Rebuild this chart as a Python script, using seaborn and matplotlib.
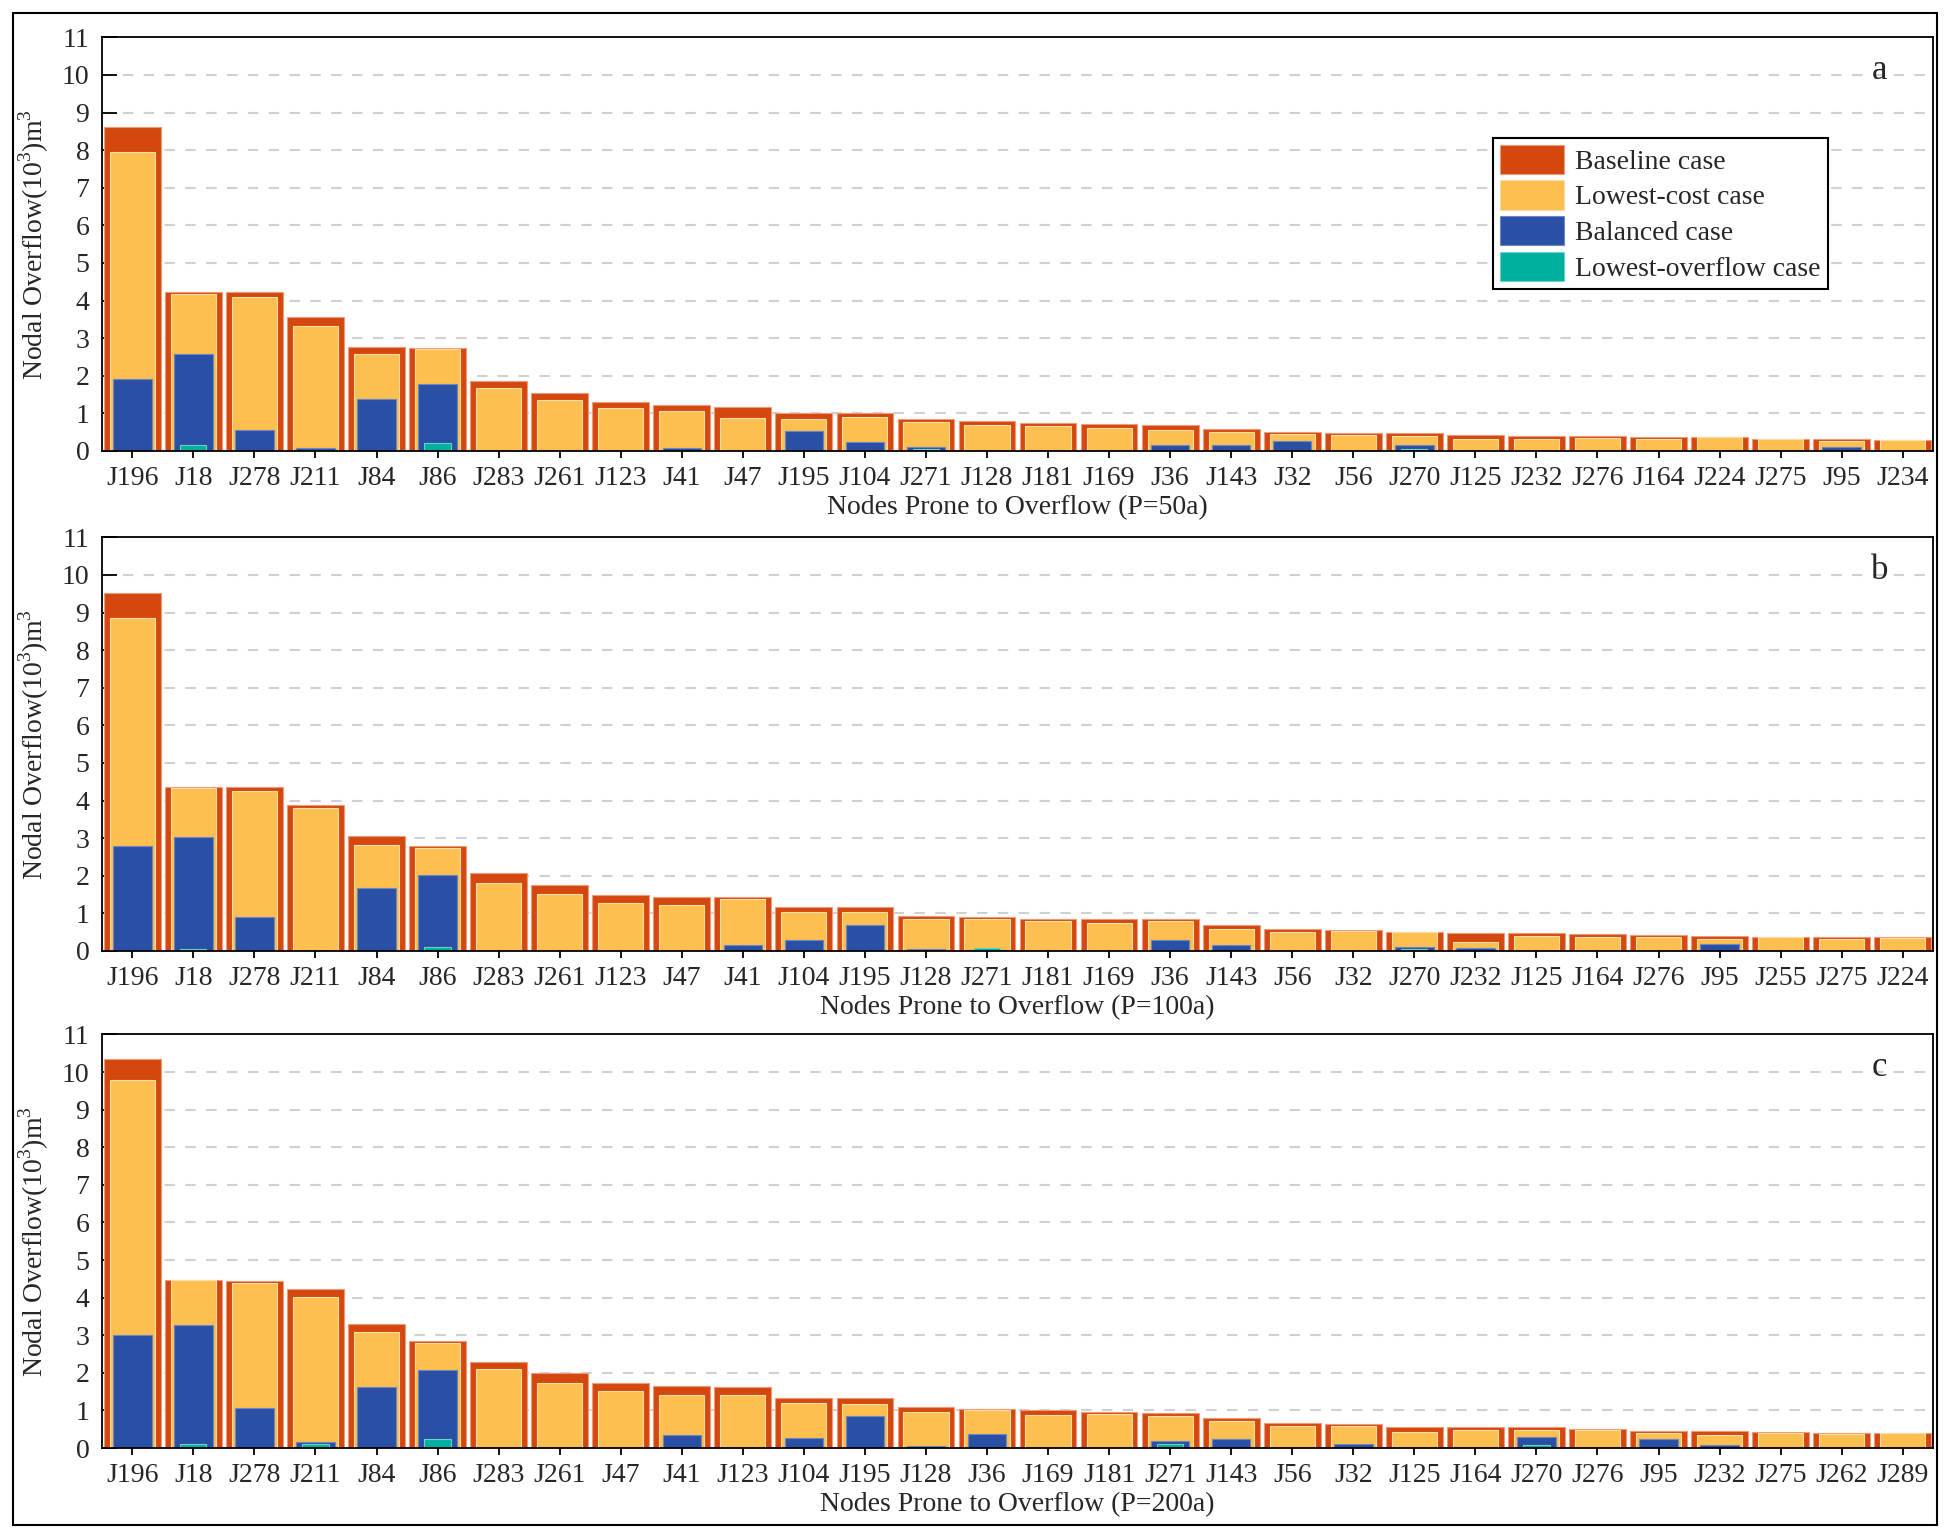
import matplotlib
matplotlib.use('Agg')
import matplotlib.pyplot as plt
from matplotlib.patches import Rectangle
import seaborn as sns

# node order and overflow values (10^3 m3) for each return period
nodes_50 = ['J196', 'J18', 'J278', 'J211', 'J84', 'J86', 'J283', 'J261', 'J123', 'J41',
            'J47', 'J195', 'J104', 'J271', 'J128', 'J181', 'J169', 'J36', 'J143', 'J32',
            'J56', 'J270', 'J125', 'J232', 'J276', 'J164', 'J224', 'J275', 'J95', 'J234']
base_50 = [8.61, 4.23, 4.22, 3.55, 2.77, 2.75, 1.85, 1.53, 1.29, 1.22,
           1.16, 1.00, 1.00, 0.84, 0.80, 0.75, 0.71, 0.68, 0.59, 0.50,
           0.49, 0.47, 0.42, 0.40, 0.40, 0.37, 0.37, 0.33, 0.33, 0.30]
cost_50 = [7.94, 4.18, 4.10, 3.32, 2.59, 2.71, 1.67, 1.36, 1.14, 1.06,
           0.88, 0.86, 0.91, 0.78, 0.69, 0.67, 0.60, 0.56, 0.51, 0.44,
           0.42, 0.41, 0.32, 0.33, 0.34, 0.32, 0.36, 0.31, 0.27, 0.29]
bal_50 = [1.91, 2.57, 0.56, 0.09, 1.39, 1.79, 0, 0, 0, 0.09,
          0, 0.53, 0.24, 0.10, 0, 0, 0, 0.15, 0.15, 0.27,
          0, 0.17, 0, 0, 0, 0, 0, 0, 0.10, 0]
low_50 = [0, 0.16, 0, 0.03, 0, 0.20, 0, 0, 0, 0,
          0, 0, 0, 0.05, 0, 0, 0, 0, 0, 0,
          0, 0.04, 0, 0, 0, 0, 0, 0, 0, 0]

nodes_100 = ['J196', 'J18', 'J278', 'J211', 'J84', 'J86', 'J283', 'J261', 'J123', 'J47',
             'J41', 'J104', 'J195', 'J128', 'J271', 'J181', 'J169', 'J36', 'J143', 'J56',
             'J32', 'J270', 'J232', 'J125', 'J164', 'J276', 'J95', 'J255', 'J275', 'J224']
base_100 = [9.51, 4.37, 4.36, 3.89, 3.05, 2.79, 2.08, 1.76, 1.48, 1.44,
            1.43, 1.16, 1.16, 0.94, 0.90, 0.86, 0.86, 0.84, 0.70, 0.58,
            0.57, 0.51, 0.49, 0.48, 0.46, 0.43, 0.39, 0.38, 0.37, 0.36]
cost_100 = [8.86, 4.34, 4.26, 3.79, 2.81, 2.75, 1.80, 1.52, 1.28, 1.23,
            1.38, 1.04, 1.04, 0.85, 0.84, 0.79, 0.74, 0.80, 0.59, 0.51,
            0.52, 0.50, 0.23, 0.40, 0.36, 0.38, 0.33, 0.37, 0.32, 0.35]
bal_100 = [2.79, 3.02, 0.90, 0, 1.68, 2.01, 0, 0, 0, 0,
           0.17, 0.29, 0.69, 0.04, 0.03, 0, 0, 0.29, 0.17, 0,
           0, 0.11, 0.08, 0, 0, 0, 0.19, 0, 0, 0]
low_100 = [0, 0.05, 0, 0.02, 0, 0.10, 0, 0, 0, 0,
           0, 0, 0, 0, 0.08, 0, 0, 0, 0, 0,
           0, 0.05, 0, 0, 0, 0, 0, 0, 0, 0]

nodes_200 = ['J196', 'J18', 'J278', 'J211', 'J84', 'J86', 'J283', 'J261', 'J47', 'J41',
             'J123', 'J104', 'J195', 'J128', 'J36', 'J169', 'J181', 'J271', 'J143', 'J56',
             'J32', 'J125', 'J164', 'J270', 'J276', 'J95', 'J232', 'J275', 'J262', 'J289']
base_200 = [10.35, 4.48, 4.45, 4.24, 3.31, 2.84, 2.30, 1.99, 1.74, 1.65,
            1.63, 1.33, 1.32, 1.08, 1.03, 1.00, 0.97, 0.93, 0.81, 0.66,
            0.63, 0.56, 0.56, 0.55, 0.50, 0.45, 0.44, 0.42, 0.41, 0.41]
cost_200 = [9.80, 4.46, 4.38, 4.02, 3.09, 2.80, 2.09, 1.73, 1.53, 1.42,
            1.40, 1.21, 1.18, 0.96, 1.01, 0.88, 0.90, 0.85, 0.72, 0.59,
            0.58, 0.43, 0.49, 0.48, 0.47, 0.40, 0.35, 0.39, 0.36, 0.41]
bal_200 = [3.00, 3.26, 1.07, 0.16, 1.61, 2.07, 0, 0, 0, 0.34,
           0, 0.27, 0.84, 0.05, 0.36, 0, 0, 0.18, 0.24, 0,
           0.10, 0, 0, 0.30, 0, 0.25, 0.07, 0, 0, 0]
low_200 = [0, 0.12, 0, 0.12, 0, 0.25, 0, 0, 0, 0,
           0, 0, 0, 0, 0, 0, 0, 0.12, 0, 0,
           0, 0, 0, 0.09, 0, 0, 0, 0, 0, 0]

case_names = ['Baseline case', 'Lowest-cost case', 'Balanced case', 'Lowest-overflow case']
colors = ['#D4470F', '#FDBF4F', '#2A50A5', '#00B09F']
edges = ['#EE9A78', '#F9DDA6', '#6A86C6', '#6CD0C6']
widths = [0.93, 0.74, 0.63, 0.43]

sns.set_theme(style='white')
plt.rcParams['font.family'] = ['Liberation Serif', 'DejaVu Serif']
plt.rcParams['font.size'] = 20
plt.rcParams['mathtext.fontset'] = 'custom'
plt.rcParams['mathtext.rm'] = 'Liberation Serif'

fig = plt.figure(figsize=(19.5, 15.38), dpi=100)

panels = [
    (nodes_50, [base_50, cost_50, bal_50, low_50], 'P=50a', 'a', 0.7068),
    (nodes_100, [base_100, cost_100, bal_100, low_100], 'P=100a', 'b', 0.3817),
    (nodes_200, [base_200, cost_200, bal_200, low_200], 'P=200a', 'c', 0.0585),
]

for i, (nodes, series, period, letter, bottom) in enumerate(panels):
    ax = fig.add_axes([0.0522, bottom, 0.9389, 0.2689])
    ax.set_axisbelow(True)
    for vals, col, ec, w, name in zip(series, colors, edges, widths, case_names):
        sns.barplot(x=nodes, y=vals, order=nodes, color=col, saturation=1, width=w,
                    edgecolor=ec, linewidth=0.8, errorbar=None, label=name, ax=ax)

    ax.set_xlim(-0.5, 29.49)
    ax.set_ylim(0, 11)
    ax.set_yticks(range(0, 12))
    for y in range(1, 11):
        ax.axhline(y, color='#D0D0D0', lw=1.5, ls=(0, (5, 5)), zorder=0)
    ax.tick_params(axis='y', direction='in', length=11, width=1.3, color='black',
                   pad=9, labelsize=20, left=True)
    ax.tick_params(axis='x', direction='out', length=5, width=1.3, color='black',
                   pad=6, labelsize=20, bottom=True)
    for sp in ax.spines.values():
        sp.set_visible(True)
        sp.set_color('black')
        sp.set_linewidth(1.3)

    ax.set_xlabel('Nodes Prone to Overflow (' + period + ')', fontsize=20, labelpad=3)
    ax.set_ylabel(r'Nodal Overflow(10$^3$)m$^3$', fontsize=20, labelpad=8)
    ax.text(0.971, 0.92, letter, transform=ax.transAxes, fontsize=25,
            ha='center', va='center')

    if i == 0:
        ax.legend(loc='upper left', bbox_to_anchor=(0.76, 0.757), fontsize=20,
                  frameon=True, fancybox=False, edgecolor='black', framealpha=1,
                  handlelength=2.3, handleheight=1.25, handletextpad=0.4,
                  labelspacing=0.2, borderpad=0.25, borderaxespad=0)
        ax.get_legend().get_frame().set_linewidth(1.5)
    elif ax.get_legend():
        ax.get_legend().remove()

# outer frame around the whole figure
fig.patches.append(Rectangle((0.0067, 0.0085), 0.9866, 0.983, transform=fig.transFigure,
                             fill=False, edgecolor='black', linewidth=1.5))

fig.savefig('out.png', dpi=100)
